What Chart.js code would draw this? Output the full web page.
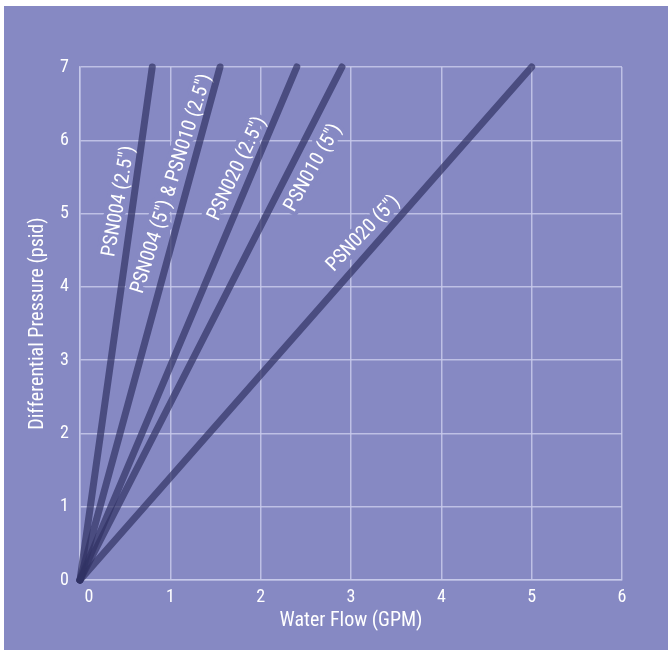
<!DOCTYPE html>
<html>
<head>
<meta charset="utf-8">
<script src="https://cdn.jsdelivr.net/npm/chart.js@4.4.1/dist/chart.umd.min.js"></script>
<style>
  html, body { margin: 0; padding: 0; background: #ffffff; }
  canvas { display: block; }
</style>
</head>
<body>
<canvas id="c" width="668" height="650"></canvas>
<script>
// ---- data ----
const seriesNames = ['PSN004 (2.5")', 'PSN004 (5") & PSN010 (2.5")', 'PSN020 (2.5")', 'PSN010 (5")', 'PSN020 (5")'];
const flowStart = [0, 0, 0, 0, 0];          // GPM at 0 psid
const pressureStart = [0, 0, 0, 0, 0];      // psid
const flowEnd = [0.8, 1.55, 2.4, 2.9, 5.0]; // GPM at 7 psid
const pressureEnd = [7, 7, 7, 7, 7];        // psid
const xTicks = [0, 1, 2, 3, 4, 5, 6];
const yTicks = [0, 1, 2, 3, 4, 5, 6, 7];
const xTitle = 'Water Flow (GPM)';
const yTitle = 'Differential Pressure (psid)';

// label placement along each line (pressure value at label centre, side: 1 = left/above, -1 = right/below)
const labelAtPressure = [5.14, 5.35, 5.53, 5.75, 4.58];
const labelSide = [1, 1, 1, -1, 1];
const labelGap = [14, 15.5, 15, 20.5, 16];

const BG = '#8689c3';
const FONT = "'Roboto Condensed', 'Open Sans', sans-serif";

const bgPlugin = {
  id: 'bg',
  beforeDraw(chart) {
    const ctx = chart.ctx;
    ctx.save();
    ctx.fillStyle = '#ffffff';
    ctx.fillRect(0, 0, chart.width, chart.height);
    ctx.fillStyle = BG;
    ctx.fillRect(4, 6, chart.width - 4, chart.height - 6);
    ctx.restore();
  }
};

const lineLabels = {
  id: 'lineLabels',
  beforeDatasetsDraw(chart) {
    const ctx = chart.ctx;
    const xs = chart.scales.x, ys = chart.scales.y;
    chart.data.datasets.forEach((ds, i) => {
      const p0 = ds.data[0], p1 = ds.data[1];
      const x0 = xs.getPixelForValue(p0.x), y0 = ys.getPixelForValue(p0.y);
      const x1 = xs.getPixelForValue(p1.x), y1 = ys.getPixelForValue(p1.y);
      const len = Math.hypot(x1 - x0, y1 - y0);
      const ux = (x1 - x0) / len, uy = (y1 - y0) / len;
      const t = (labelAtPressure[i] - p0.y) / (p1.y - p0.y);
      const fx = x0 + t * (x1 - x0), fy = y0 + t * (y1 - y0);
      const nx = uy, ny = -ux; // left normal
      const cx = fx + labelSide[i] * labelGap[i] * nx;
      const cy = fy + labelSide[i] * labelGap[i] * ny;
      const ang = Math.atan2(y1 - y0, x1 - x0) + 0.04;
      ctx.save();
      ctx.translate(cx, cy);
      ctx.rotate(ang);
      ctx.font = '20px ' + FONT;
      ctx.textAlign = 'center';
      ctx.textBaseline = 'middle';
      ctx.lineJoin = 'round';
      ctx.lineWidth = 8;
      ctx.strokeStyle = BG;
      ctx.strokeText(ds.label, 0, 0);
      ctx.fillStyle = '#ffffff';
      ctx.fillText(ds.label, 0, 0);
      ctx.restore();
    });
  }
};

const datasets = seriesNames.map((name, i) => ({
  label: name,
  data: [
    { x: flowStart[i], y: pressureStart[i] },
    { x: flowEnd[i], y: pressureEnd[i] }
  ],
  borderColor: 'rgba(49, 50, 100, 0.7)',
  backgroundColor: 'rgba(49, 50, 100, 0.7)',
  borderWidth: 7,
  borderCapStyle: 'round',
  pointRadius: 0,
  pointHoverRadius: 0,
  tension: 0,
  fill: false,
  clip: false
}));

new Chart(document.getElementById('c'), {
  type: 'line',
  data: { datasets },
  options: {
    responsive: false,
    animation: false,
    events: [],
    layout: { padding: { top: 67, right: 46, bottom: 0, left: 0 } },
    plugins: {
      legend: { display: false },
      tooltip: { enabled: false }
    },
    scales: {
      x: {
        type: 'linear',
        min: xTicks[0],
        max: xTicks[xTicks.length - 1],
        afterFit(scale) { scale.height = 70; },
        afterBuildTicks(scale) { scale.ticks = xTicks.map(v => ({ value: v })); },
        grid: { color: 'rgba(200, 202, 235, 0.85)', lineWidth: 1.5, drawTicks: false },
        border: { color: 'rgba(200, 202, 235, 0.85)', width: 1.5 },
        ticks: {
          color: '#ffffff',
          padding: 7,
          maxRotation: 0,
          font: { family: FONT, size: 18 },
          callback: (v) => v === 0 ? '\u2007\u20070' : String(v)
        },
        title: {
          display: true,
          text: xTitle,
          color: '#ffffff',
          font: { family: FONT, size: 20 },
          padding: { top: 0, bottom: 17 }
        }
      },
      y: {
        type: 'linear',
        min: yTicks[0],
        max: yTicks[yTicks.length - 1],
        afterFit(scale) { scale.width = 80; },
        afterBuildTicks(scale) { scale.ticks = yTicks.map(v => ({ value: v })); },
        grid: { color: 'rgba(200, 202, 235, 0.85)', lineWidth: 1.5, drawTicks: false },
        border: { color: 'rgba(200, 202, 235, 0.85)', width: 1.5 },
        ticks: {
          color: '#ffffff',
          padding: 11,
          font: { family: FONT, size: 18 }
        },
        title: {
          display: true,
          text: yTitle,
          color: '#ffffff',
          font: { family: FONT, size: 20 },
          padding: { top: 26, bottom: 0 }
        }
      }
    }
  },
  plugins: [bgPlugin, lineLabels]
});
</script>
</body>
</html>
